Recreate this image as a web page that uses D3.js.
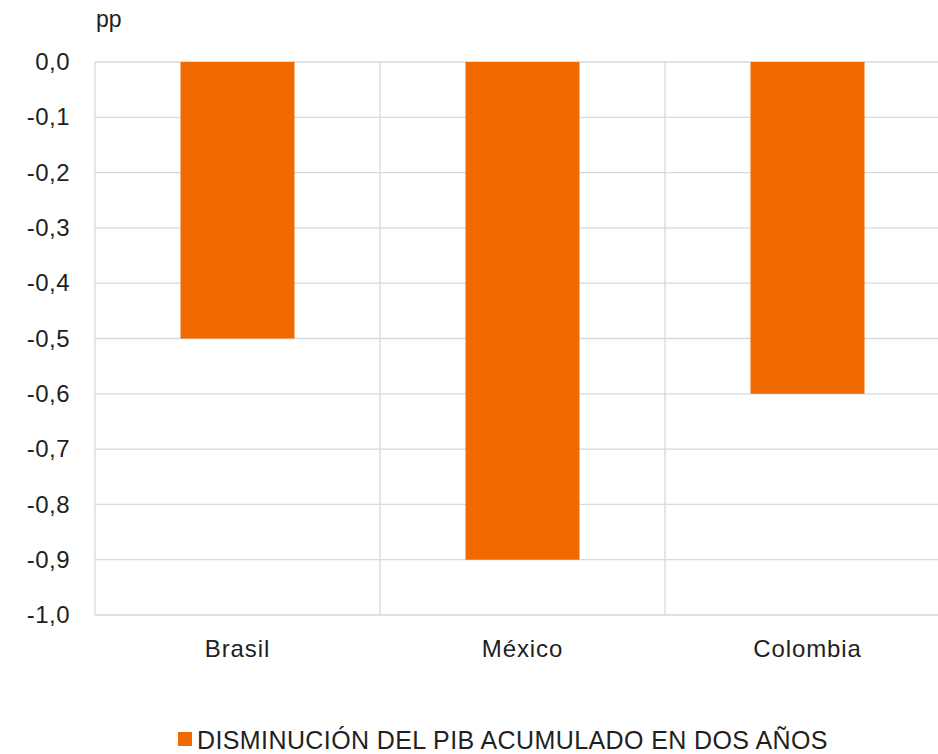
<!DOCTYPE html>
<html>
<head>
<meta charset="utf-8">
<script src="https://cdn.jsdelivr.net/npm/d3@7"></script>
<style>
  body { margin: 0; background: #fff; }
  text { font-family: "Liberation Sans", Arial, sans-serif; fill: #231f20; }
</style>
</head>
<body>
<svg id="chart" width="938" height="754"></svg>
<script>
// data
var countries = ["Brasil", "México", "Colombia"]
var values = [-0.5, -0.9, -0.6]
var yTicks = [0, -0.1, -0.2, -0.3, -0.4, -0.5, -0.6, -0.7, -0.8, -0.9, -1.0]
var seriesName = "DISMINUCIÓN DEL PIB ACUMULADO EN DOS AÑOS"
var unitLabel = "pp"

var svg = d3.select("#chart")
var mLeft = 95, mRight = 950, mTop = 62, mBottom = 615
var orange = "#f06a00", grid = "#d9d9d9"

var x = d3.scaleBand().domain(countries).range([mLeft, mRight])
          .paddingInner(0.6).paddingOuter(0.3)
var xGrid = d3.scaleBand().domain(countries).range([mLeft, mRight])
var y = d3.scaleLinear().domain([-1, 0]).range([mBottom, mTop])

// horizontal grid lines
svg.append("g").selectAll("line").data(yTicks).enter().append("line")
   .attr("x1", mLeft).attr("x2", mRight)
   .attr("y1", function(d) { return y(d) }).attr("y2", function(d) { return y(d) })
   .attr("stroke", grid).attr("stroke-width", 1.3)

// vertical grid lines (category borders)
var borders = [mLeft].concat(countries.map(function(c) { return xGrid(c) + xGrid.bandwidth() }))
svg.append("g").selectAll("line").data(borders).enter().append("line")
   .attr("x1", function(d) { return d }).attr("x2", function(d) { return d })
   .attr("y1", mTop).attr("y2", mBottom)
   .attr("stroke", grid).attr("stroke-width", 1.3)

// bars
svg.append("g").selectAll("rect").data(values).enter().append("rect")
   .attr("x", function(d, i) { return x(countries[i]) })
   .attr("width", x.bandwidth())
   .attr("y", y(0))
   .attr("height", function(d) { return y(d) - y(0) })
   .attr("fill", orange)

// y axis labels
var yAxis = d3.axisLeft(y).tickValues(yTicks).tickSize(0).tickPadding(25)
              .tickFormat(function(d) { return d3.format(".1f")(d).replace(".", ",").replace("−", "-") })
var gy = svg.append("g").attr("transform", "translate(" + mLeft + ",0)").call(yAxis)
gy.select(".domain").remove()
gy.selectAll("text").style("font-size", "24px").style("letter-spacing", "0.5px").attr("fill", "#231f20")
  .attr("font-family", "Liberation Sans, Arial, sans-serif")

// x axis labels
var xAxis = d3.axisBottom(xGrid).tickSize(0).tickPadding(25)
var gx = svg.append("g").attr("transform", "translate(0," + mBottom + ")").call(xAxis)
gx.select(".domain").remove()
gx.selectAll("text").style("font-size", "24px").style("letter-spacing", "0.9px").attr("fill", "#231f20")
  .attr("font-family", "Liberation Sans, Arial, sans-serif")

// unit label
svg.append("text").attr("x", 96).attr("y", 27).style("font-size", "23px").text(unitLabel)

// legend
svg.append("rect").attr("x", 178).attr("y", 732).attr("width", 14).attr("height", 14).attr("fill", orange)
svg.append("text").attr("x", 197).attr("y", 749).style("font-size", "25px").style("letter-spacing", "0.4px").text(seriesName)
</script>
</body>
</html>
